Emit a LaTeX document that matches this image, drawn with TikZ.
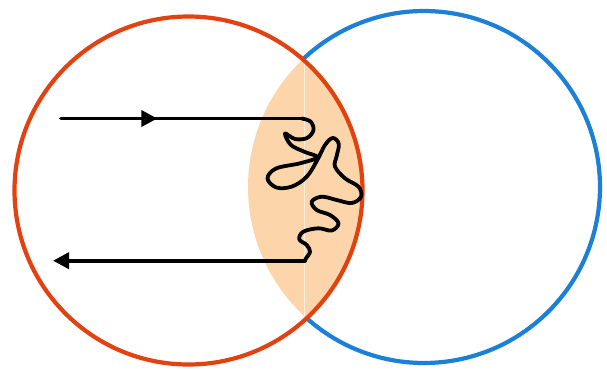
\documentclass[tikz,border=0pt]{standalone}
\usetikzlibrary{arrows.meta,decorations.markings}
\definecolor{ringred}{RGB}{226,66,16}
\definecolor{ringblue}{RGB}{28,128,214}
\definecolor{lens}{RGB}{253,213,170}
\tikzset{
  ring/.style={line width=4.2pt},
  wire/.style={line width=3.8pt, black, line join=round, line cap=round},
  wtip/.tip={Triangle[length=16pt,width=16pt]}
}
\begin{document}
\begin{tikzpicture}[x=1pt,y=-1pt]
\useasboundingbox (0,0) rectangle (607,370);
\coordinate (rc) at (188.5,190.5);
\coordinate (bc) at (424,187);
% lens
\begin{scope}
  \clip (rc) circle[radius=174];
  \fill[lens] (bc) circle[radius=176];
\end{scope}
\coordinate (lt) at (304.5,62);
\coordinate (lb) at (304.5,316);
\draw[white, opacity=0.6, line width=0.8pt] (lt) -- (lb);
% blue arc (outside the red circle)
\draw[ring, ringblue] (bc) ++(-133.4:176) arc[start angle=-133.4, end angle=131.9, radius=176];
% red circle
\draw[ring, ringred] (rc) circle[radius=174];
% incoming wire
\coordinate (inS) at (61,118.5);
\coordinate (inE) at (301.7,118.5);
\draw[wire, postaction={decorate}, decoration={markings, mark=at position 0.40 with {\arrow{wtip}}}]
  (inS) -- (inE);
% squiggle
\coordinate (outS) at (305,260.7);
\draw[wire] (inE) -- plot[smooth, tension=0.6] coordinates {
 (301.7,118.5) (310.5,121.5) (313.5,130) (307,138) (295,139) (285,133.5)
 (291,145) (305,152) (317.3,157.3) (300,163.3) (276,168.5) (267.5,178.5)
 (276.5,187.5) (292,186.5) (306.7,176.7) (317.3,160) (325,145) (332.7,138)
 (338.8,144) (336.5,156.7) (335,166.7) (345,178.3) (358.5,186.7) (361,196.7)
 (351.7,203) (336.7,200) (321.7,196.7) (311.7,201.7) (316.7,210) (330,215)
 (338.5,223.3) (331.7,230.5) (318.3,228.3) (303.3,231.7) (299.3,239.3) (306.7,245)
 (310,251.7) (306,258.3) (305,260.7)};
% outgoing wire
\coordinate (outE) at (53,260.7);
\draw[wire, -{wtip}] (outS) -- (outE);
\end{tikzpicture}
\end{document}
